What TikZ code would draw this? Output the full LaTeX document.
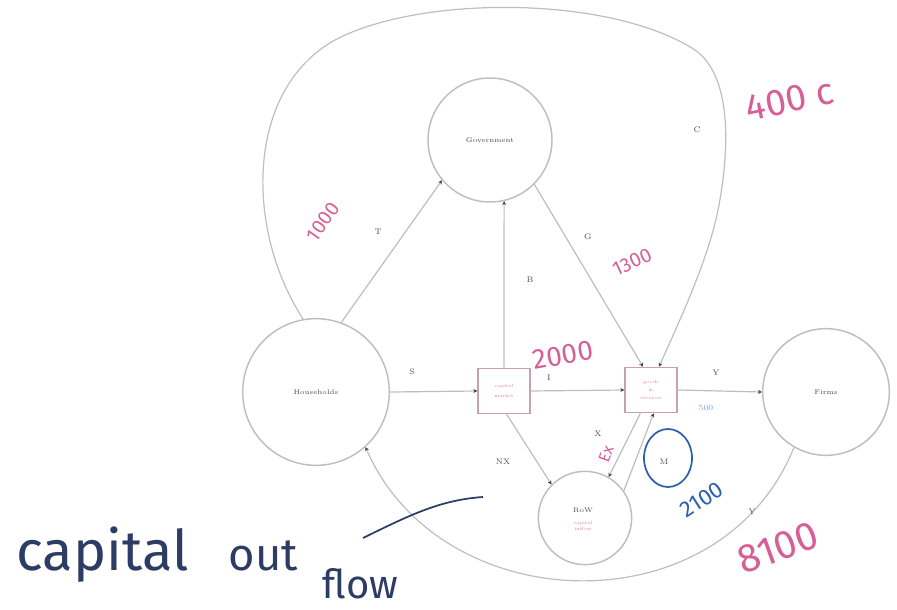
\documentclass[tikz,border=0pt]{standalone}
\usepackage{fontspec}
\newfontfamily\hand{Fira Sans}
\usetikzlibrary{arrows.meta}
\definecolor{ink}{RGB}{190,190,190}
\definecolor{hpink}{RGB}{214,96,150}
\definecolor{hblue}{RGB}{45,95,175}
\definecolor{nblue}{RGB}{45,60,100}
\definecolor{lblue}{RGB}{120,165,210}
\begin{document}
\begin{tikzpicture}[x=0.75pt,y=-0.75pt,
  circ/.style={circle, draw=ink, line width=1.1pt, inner sep=0pt, font=\fontsize{5}{6}\selectfont, text=black!70},
  mbox/.style={rectangle, draw=ink!70!hpink, line width=1pt, minimum width=39pt, minimum height=34pt, inner sep=1pt, font=\fontsize{3.5}{5}\selectfont, text=hpink!80, align=center},
  flow/.style={draw=ink, line width=0.9pt, -{Stealth[length=3pt,width=3pt,color=black!75]}},
  lab/.style={font=\fontsize{6}{7}\selectfont, text=black!70},
  hpinknum/.style={font=\hand, text=hpink},
  hbluetxt/.style={font=\hand, text=nblue}]
\useasboundingbox (0,0) rectangle (897,610);

% main nodes
\node[circ, minimum size=93pt] (gov) at (490,140) {Government};
\node[circ, minimum size=110pt] (hh) at (316,392) {Households};
\node[circ, minimum size=95pt] (firms) at (826,392) {Firms};
\node[circ, minimum size=70pt] (row) at (585,518) {};
\node[font=\fontsize{5}{6}\selectfont, text=black!70] (rowt) at (583,510) {RoW};
\node[font=\fontsize{3.5}{5}\selectfont, text=hpink!80, align=center] (rowp) at (583,526) {capital\\inflow};
\node[mbox] (cm) at (504,391) {capital\\[2pt] market};
\node[mbox] (gm) at (651,390) {goods\\[1pt] \&\\[1pt] services};

% connectors
\draw[flow] (hh.70) -- (gov.220);
\draw[flow] (hh.east) -- (cm.west);
\draw[flow] (cm.north) -- (gov.-77);
\draw[flow] (cm.east) -- (gm.west);
\draw[flow] (gov.-45) -- ([xshift=-6pt]gm.north);
\draw[flow] (gm.east) -- (firms.west);
\draw[flow] (hh.100) .. controls (245,230) and (245,90) .. (335,40)
  .. controls (420,-5) and (610,-5) .. (695,50)
  .. controls (735,78) and (728,160) .. (718,210)
  .. controls (708,260) and (680,320) .. ([xshift=6pt]gm.north);
\draw[flow] ([xshift=2pt]cm.south) -- (row.135);
\draw[flow] ([xshift=-8pt]gm.south) -- (row.60);
\draw[flow] (row.35) -- ([xshift=2pt]gm.south);
\draw[flow] (firms.240) .. controls (720,630) and (440,620) .. (hh.-48);

% printed labels
\node[lab] (lT) at (378,232) {T};
\node[lab] (lS) at (412,372) {S};
\node[lab] (lI) at (549,378) {I};
\node[lab] (lY) at (716,373) {Y};
\node[lab] (lG) at (588,237) {G};
\node[lab] (lC) at (697,130) {C};
\node[lab] (lB) at (530,280) {B};
\node[lab] (lNX) at (503,462) {NX};
\node[lab] (lX) at (598,434) {X};
\node[lab] (lM) at (664,462) {M};
\node[lab] (lY2) at (752,512) {Y};
\node[font=\fontsize{6}{7}\selectfont, text=lblue] (l500) at (706,408) {500};

% handwritten annotations
\node[hpinknum, font=\hand\fontsize{15}{15}\selectfont, rotate=55] (h1000) at (323,222) {1000};
\node[hpinknum, font=\hand\fontsize{28}{28}\selectfont, rotate=12] (h400) at (790,100) {400 c};
\node[hpinknum, font=\hand\fontsize{15}{15}\selectfont, rotate=25] (h1300) at (632,262) {1300};
\node[hpinknum, font=\hand\fontsize{21}{21}\selectfont, rotate=10] (h2000) at (563,355) {2000};
\node[hpinknum, font=\hand\fontsize{12}{12}\selectfont, rotate=70] (hEx) at (606,454) {Ex};
\node[hpinknum, font=\hand\fontsize{30}{30}\selectfont, rotate=20] (h8100) at (778,548) {8100};
\node[font=\hand\fontsize{17}{17}\selectfont, text=hblue, rotate=33] (h2100) at (702,500) {2100};
\draw[hblue, line width=1.3pt] (668,458) ellipse (24 and 29);
\node[hbluetxt, font=\hand\fontsize{42}{42}\selectfont, anchor=base west] (hcap) at (12,570) {capital};
\node[hbluetxt, font=\hand\fontsize{34}{34}\selectfont, anchor=base west] (hout) at (224,570) {out};
\node[hbluetxt, font=\hand\fontsize{30}{30}\selectfont, anchor=base west] (hflow) at (318,598) {flow};
\draw[nblue, line width=1.3pt] (363,538) .. controls (410,515) and (440,500) .. (483,497);
\end{tikzpicture}
\end{document}
